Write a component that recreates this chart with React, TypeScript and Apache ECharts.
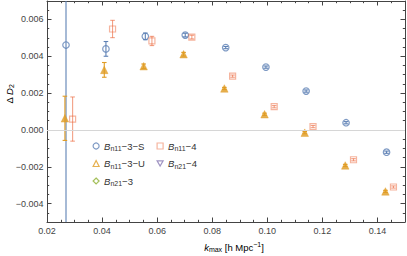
import React, { useEffect, useRef } from "react";
import * as echarts from "echarts";

// Bn11-3-S (blue circles)
const kS = [0.0269, 0.0414, 0.0557, 0.0702, 0.0849, 0.0995, 0.1141, 0.1286, 0.1433];
const dS = [0.00461, 0.0044, 0.00508, 0.00515, 0.00447, 0.00341, 0.00211, 0.00039, -0.00121];
const eS = [0.02, 0.0004, 0.00018, 0.0001, 0.00006, 0.00006, 0.00006, 0.00006, 0.00006];

// Bn11-3-U (orange triangles)
const kU = [0.0265, 0.0408, 0.0551, 0.0696, 0.0844, 0.099, 0.1136, 0.1283, 0.1429];
const dU = [0.00063, 0.00326, 0.00346, 0.00411, 0.00225, 0.00085, -0.00015, -0.00193, -0.00334];
const eU = [0.0012, 0.0004, 0.00012, 0.0001, 0.00006, 0.00006, 0.00006, 0.00006, 0.00006];

// Bn11-4 (salmon squares)
const k4 = [0.0293, 0.0438, 0.0581, 0.0726, 0.0874, 0.1025, 0.1166, 0.1313, 0.1458];
const d4 = [0.00059, 0.00548, 0.00483, 0.00504, 0.00292, 0.00126, 0.00018, -0.00162, -0.0031];
const e4 = [0.0012, 0.00047, 0.00025, 0.0001, 0.00006, 0.00006, 0.00006, 0.00006, 0.00006];

const xMajor = [0.02, 0.04, 0.06, 0.08, 0.1, 0.12, 0.14];
const yMajor = [-0.004, -0.002, 0, 0.002, 0.004, 0.006];
const refLines = [0, 0.005];

const BLUE = "#5e81b5";
const ORANGE = "#e09c24";
const GREEN = "#8fb032";
const SALMON = "rgba(235,98,53,0.6)";
const PURPLE = "#8778b3";
const FONT = "Liberation Sans";
const FRAME = "#444";

const legendNames: Record<string, string> = {
  "Bn11-3-S": "{i|B}{s|n11}{n|\u22123\u2212S}",
  "Bn11-3-U": "{i|B}{s|n11}{n|\u22123\u2212U}",
  "Bn21-3": "{i|B}{s|n21}{n|\u22123}",
  "Bn11-4": "{i|B}{s|n11}{n|\u22124}",
  "Bn21-4": "{i|B}{s|n21}{n|\u22124}",
};

const rich = {
  n: { fontSize: 9.5, fontFamily: FONT, color: "#333", lineHeight: 12 },
  i: { fontSize: 9.5, fontFamily: FONT, color: "#333", fontStyle: "italic", lineHeight: 12 },
  s: { fontSize: 7, fontFamily: FONT, color: "#333", verticalAlign: "bottom", lineHeight: 5 },
  u: { fontSize: 7, fontFamily: FONT, color: "#333", verticalAlign: "top", lineHeight: 5 },
};

function errData(k: number[], d: number[], e: number[]) {
  return k.map((x, i) => [x, d[i], e[i]]);
}

function errSeries(name: string, k: number[], d: number[], e: number[], color: string) {
  return {
    type: "custom",
    name: name + "-err",
    xAxisIndex: 0,
    yAxisIndex: 0,
    clip: true,
    silent: true,
    data: errData(k, d, e),
    encode: { x: 0, y: 1 },
    renderItem: (params: any, api: any) => {
      const x = api.value(0);
      const y = api.value(1);
      const er = api.value(2);
      const t = api.coord([x, y + er]);
      const b = api.coord([x, y - er]);
      const hw = 2.3;
      const style = { stroke: color, lineWidth: 1.1 };
      return {
        type: "group",
        children: [
          { type: "line", shape: { x1: t[0], y1: t[1], x2: b[0], y2: b[1] }, style },
          { type: "line", shape: { x1: t[0] - hw, y1: t[1], x2: t[0] + hw, y2: t[1] }, style },
          { type: "line", shape: { x1: b[0] - hw, y1: b[1], x2: b[0] + hw, y2: b[1] }, style },
        ],
      };
    },
  };
}

function xAxisPair(position: "bottom" | "top", labels: boolean) {
  return [
    {
      type: "value",
      position,
      min: 0.02,
      max: 0.15,
      interval: 0.005,
      axisLine: { show: true, onZero: false, lineStyle: { color: FRAME, width: 1 } },
      axisTick: { show: true, inside: true, length: 2.2, lineStyle: { color: FRAME } },
      axisLabel: { show: false },
      splitLine: { show: false },
    },
    {
      type: "value",
      position,
      min: 0.02,
      max: 0.15,
      interval: 0.005,
      axisLine: { show: false, onZero: false },
      axisTick: { show: true, inside: true, length: 4.5, customValues: xMajor, lineStyle: { color: FRAME } },
      axisLabel: {
        show: labels,
        customValues: xMajor,
        margin: 4,
        fontFamily: FONT,
        fontSize: 9,
        color: "#444",
        formatter: (v: number) => v.toFixed(2),
      },
      splitLine: { show: false },
    },
  ];
}

function yAxisPair(position: "left" | "right", labels: boolean) {
  return [
    {
      type: "value",
      position,
      min: -0.005,
      max: 0.007,
      interval: 0.0005,
      axisLine: { show: true, onZero: false, lineStyle: { color: FRAME, width: 1 } },
      axisTick: { show: true, inside: true, length: 2.2, lineStyle: { color: FRAME } },
      axisLabel: { show: false },
      splitLine: { show: false },
    },
    {
      type: "value",
      position,
      min: -0.005,
      max: 0.007,
      interval: 0.0005,
      axisLine: { show: false, onZero: false },
      axisTick: { show: true, inside: true, length: 4.5, customValues: yMajor, lineStyle: { color: FRAME } },
      axisLabel: {
        show: labels,
        customValues: yMajor,
        margin: 3.5,
        fontFamily: FONT,
        fontSize: 9,
        color: "#444",
        formatter: (v: number) => {
          const s = Math.abs(v).toFixed(3);
          return v < -1e-9 ? "\u2212" + s : s;
        },
      },
      splitLine: { show: false },
    },
  ];
}

export default function App() {
  const ref = useRef<HTMLDivElement>(null);
  useEffect(() => {
    if (!ref.current) return;
    const chart = echarts.init(ref.current, null, { renderer: "svg" });
    const legendBase = {
      orient: "vertical",
      top: 141,
      padding: 0,
      itemWidth: 6,
      itemHeight: 6,
      itemGap: 6.5,
      selectedMode: false,
      formatter: (n: string) => legendNames[n] || n,
      textStyle: { rich, fontFamily: FONT, fontSize: 9.5, color: "#333" },
    };
    const option: any = {
      animation: false,
      backgroundColor: "#fff",
      grid: { left: 47, right: 2, top: 1, bottom: 34, containLabel: false },
      xAxis: [...xAxisPair("bottom", true), ...xAxisPair("top", false)],
      yAxis: [...yAxisPair("left", true), ...yAxisPair("right", false)],
      legend: [
        {
          ...legendBase,
          left: 92.5,
          data: [
            { name: "Bn11-3-S", icon: "circle", itemStyle: { color: "rgba(0,0,0,0)", borderColor: BLUE, borderWidth: 1.2 } },
            { name: "Bn11-3-U", icon: "triangle", itemStyle: { color: "rgba(0,0,0,0)", borderColor: ORANGE, borderWidth: 1.2 } },
            { name: "Bn21-3", icon: "diamond", itemStyle: { color: "rgba(0,0,0,0)", borderColor: GREEN, borderWidth: 1.2 } },
          ],
        },
        {
          ...legendBase,
          left: 156.5,
          data: [
            { name: "Bn11-4", icon: "rect", itemStyle: { color: "rgba(0,0,0,0)", borderColor: SALMON, borderWidth: 1.2 } },
            { name: "Bn21-4", icon: "path://M0,0 L10,0 L5,8.66 Z", itemStyle: { color: "rgba(0,0,0,0)", borderColor: PURPLE, borderWidth: 1.2 } },
          ],
        },
      ],
      graphic: [
        {
          type: "text",
          x: 9,
          y: 94,
          rotation: Math.PI / 2,
          style: {
            text: "{n|\u0394 }{i|D}{s|2}",
            rich,
            align: "center",
            verticalAlign: "middle",
          },
        },
        {
          type: "text",
          x: 234,
          y: 247,
          style: {
            text: "{i|k}{s|max}{n| [h Mpc}{u|\u22121}{n|]}",
            rich,
            align: "center",
            verticalAlign: "middle",
          },
        },
      ],
      series: [
        {
          type: "line",
          name: "ref",
          data: [],
          xAxisIndex: 0,
          yAxisIndex: 0,
          silent: true,
          markLine: {
            silent: true,
            symbol: "none",
            label: { show: false },
            lineStyle: { color: "#d6d6d6", width: 1, type: "solid" },
            data: refLines.map((v) => ({ yAxis: v })),
          },
        },
        errSeries("Bn11-3-S", kS, dS, eS, BLUE),
        errSeries("Bn11-3-U", kU, dU, eU, ORANGE),
        errSeries("Bn11-4", k4, d4, e4, SALMON),
        {
          type: "scatter",
          name: "Bn11-3-S",
          xAxisIndex: 0,
          yAxisIndex: 0,
          symbol: "circle",
          symbolSize: 6.5,
          itemStyle: { color: "rgba(0,0,0,0)", borderColor: BLUE, borderWidth: 1.2 },
          data: kS.map((x, i) => [x, dS[i]]),
        },
        {
          type: "scatter",
          name: "Bn11-3-U",
          xAxisIndex: 0,
          yAxisIndex: 0,
          symbol: "triangle",
          symbolSize: 7.5,
          itemStyle: { color: ORANGE, borderColor: ORANGE, borderWidth: 0.5 },
          data: kU.map((x, i) => [x, dU[i]]),
        },
        {
          type: "scatter",
          name: "Bn21-3",
          xAxisIndex: 0,
          yAxisIndex: 0,
          symbol: "diamond",
          itemStyle: { color: GREEN },
          data: [],
        },
        {
          type: "scatter",
          name: "Bn11-4",
          xAxisIndex: 0,
          yAxisIndex: 0,
          symbol: "rect",
          symbolSize: 6,
          itemStyle: { color: "rgba(0,0,0,0)", borderColor: SALMON, borderWidth: 1.2 },
          data: k4.map((x, i) => [x, d4[i]]),
        },
        {
          type: "scatter",
          name: "Bn21-4",
          xAxisIndex: 0,
          yAxisIndex: 0,
          symbol: "path://M0,0 L10,0 L5,8.66 Z",
          itemStyle: { color: PURPLE },
          data: [],
        },
      ],
    };
    chart.setOption(option);
    return () => chart.dispose();
  }, []);
  return (
    <div
      ref={ref}
      style={{ position: "absolute", left: 0, top: 0, width: 407, height: 256 }}
    />
  );
}
